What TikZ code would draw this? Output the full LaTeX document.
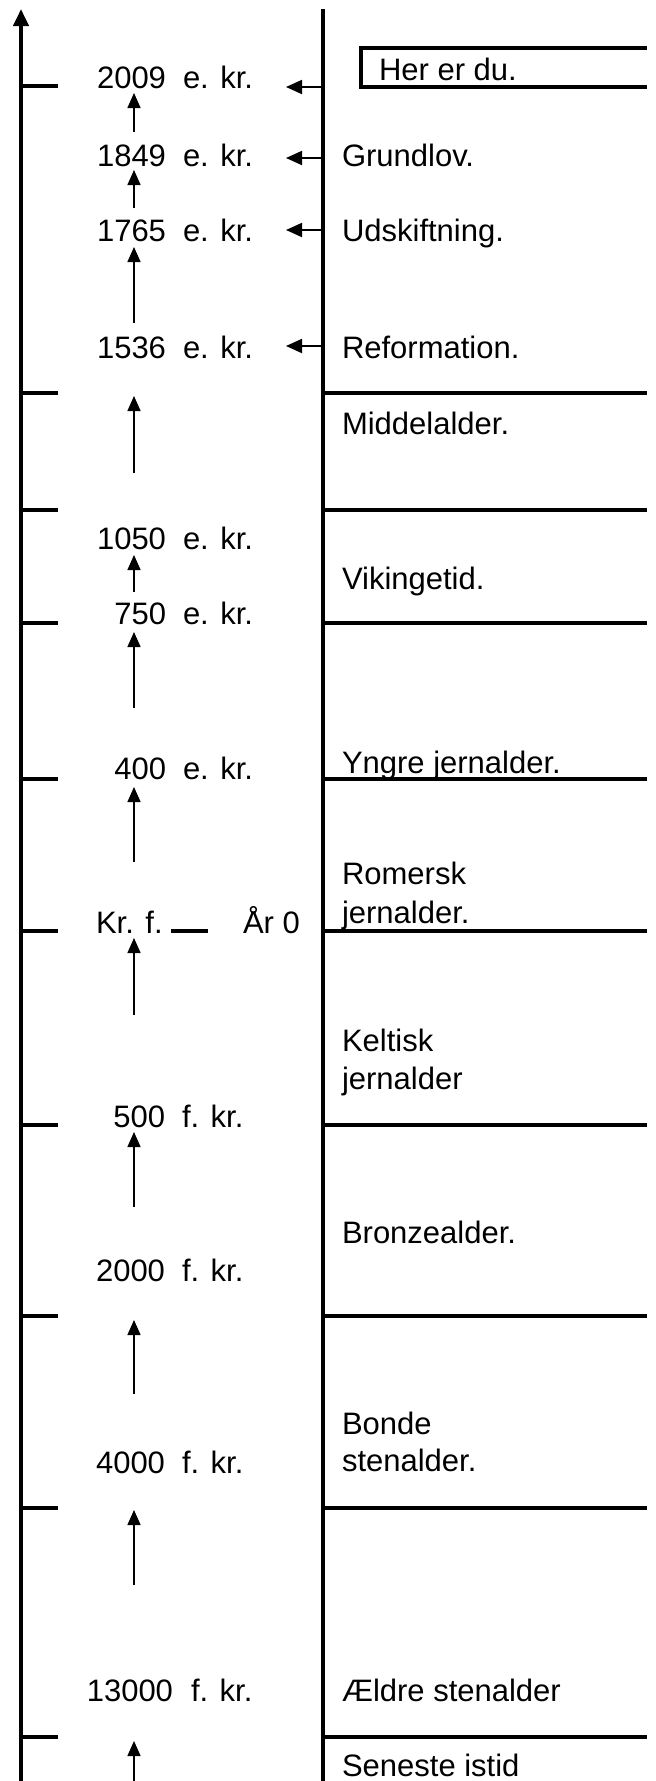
\documentclass[tikz,border=0pt]{standalone}
\usepackage{fontspec}
\setmainfont{Liberation Sans}
\usetikzlibrary{arrows.meta}
\begin{document}
\begin{tikzpicture}[x=1pt,y=-1pt,
  lbl/.style={inner sep=0pt, outer sep=0pt, font=\fontsize{31}{37}\selectfont},
  num/.style={lbl, anchor=base east},
  suf/.style={lbl, anchor=base west},
  era/.style={lbl, anchor=base west},
  axisline/.style={line width=4pt},
  divline/.style={line width=3.8pt},
  tickline/.style={line width=4pt},
  uparr/.style={line width=1.5pt, -{Triangle[length=15pt,width=13pt]}},
  leftarr/.style={line width=1.8pt, -{Triangle[length=16pt,width=14pt]}},
]
\useasboundingbox (0,0) rectangle (656,1781);
% main axis and divider
\coordinate (axB) at (21,1781);
\coordinate (axT) at (21,9);
\draw[axisline,-{Triangle[length=17pt,width=15pt]}] (axB) -- (axT);
\coordinate (midT) at (323,9);
\coordinate (midB) at (323,1781);
\draw[divline] (midT) -- (midB);
% ticks on the axis
\foreach \y in {86,393,510,623,779,931,1125,1316,1508,1737}
  \draw[tickline] (21,\y) -- (58,\y);
% period divider lines
\foreach \y in {393,510,623,779,931,1125,1316,1508,1737}
  \draw[divline] (323,\y) -- (647,\y);
% "Her er du." frame
\draw[line width=3.5pt] (647,48) -- (361,48) -- (361,87) -- (647,87);
% dash at Kr. f.
\draw[line width=3.5pt] (171,931) -- (208,931);

% left column labels
\node[num] (n2009) at (166,88) {2009};   \node[suf] (s2009) at (183,88) {e. kr.};
\node[num] (n1849) at (166,166) {1849};  \node[suf] (s1849) at (183,166) {e. kr.};
\node[num] (n1765) at (166,241) {1765};  \node[suf] (s1765) at (183,241) {e. kr.};
\node[num] (n1536) at (166,358) {1536};  \node[suf] (s1536) at (183,358) {e. kr.};
\node[num] (n1050) at (166,549) {1050};  \node[suf] (s1050) at (183,549) {e. kr.};
\node[num] (n750) at (166,624) {750};    \node[suf] (s750) at (183,624) {e. kr.};
\node[num] (n400) at (166,779) {400};    \node[suf] (s400) at (183,779) {e. kr.};
\node[lbl, anchor=base west] (krf) at (96,933) {Kr. f.};
\node[lbl, anchor=base west] (ar0) at (243,933) {År 0};
\node[num] (n500) at (165,1127) {500};   \node[suf] (s500) at (182,1127) {f. kr.};
\node[num] (n2000) at (165,1281) {2000}; \node[suf] (s2000) at (182,1281) {f. kr.};
\node[num] (n4000) at (165,1473) {4000}; \node[suf] (s4000) at (182,1473) {f. kr.};
\node[num] (n13000) at (173,1701) {13000}; \node[suf] (s13000) at (191,1701) {f. kr.};

% right column labels
\node[era] (here) at (379,80) {Her er du.};
\node[era] (grund) at (342,166) {Grundlov.};
\node[era] (udsk) at (342,241) {Udskiftning.};
\node[era] (refo) at (342,358) {Reformation.};
\node[era] (midd) at (342,434) {Middelalder.};
\node[era] (viki) at (342,589) {Vikingetid.};
\node[era] (yngre) at (342,773) {Yngre jernalder.};
\node[era] (rom1) at (342,884) {Romersk};
\node[era] (rom2) at (342,923) {jernalder.};
\node[era] (kel1) at (342,1051) {Keltisk};
\node[era] (kel2) at (342,1089) {jernalder};
\node[era] (bron) at (342,1243) {Bronzealder.};
\node[era] (bon1) at (342,1434) {Bonde};
\node[era] (bon2) at (342,1471) {stenalder.};
\node[era] (aeld) at (342,1701) {Ældre stenalder};
\node[era] (sene) at (342,1776) {Seneste istid};

% left-pointing arrows from the divider
\foreach \i/\y in {1/87,2/158,3/230,4/346}{
  \coordinate (la\i s) at (323,\y);
  \coordinate (la\i t) at (286,\y);
  \draw[leftarr] (la\i s) -- (la\i t);
}
% upward arrows
\foreach \i/\t/\b in {1/93/132,2/170/208,3/247/323,4/396/473,5/555/592,6/632/708,7/787/862,8/938/1015,9/1132/1207,10/1320/1394,11/1510/1585,12/1741/1781}{
  \coordinate (ua\i b) at (134,\b);
  \coordinate (ua\i t) at (134,\t);
  \draw[uparr] (ua\i b) -- (ua\i t);
}
\end{tikzpicture}
\end{document}
